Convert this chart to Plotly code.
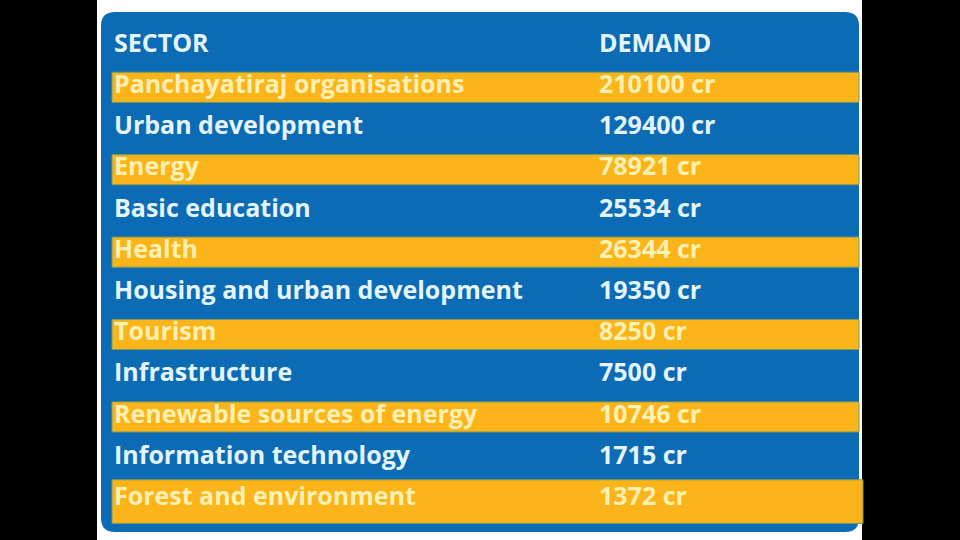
import plotly.graph_objects as go

# ---- data ----
headers = ["SECTOR", "DEMAND"]
sectors = [
    "Panchayatiraj organisations",
    "Urban development",
    "Energy",
    "Basic education",
    "Health",
    "Housing and urban development",
    "Tourism",
    "Infrastructure",
    "Renewable sources of energy",
    "Information technology",
    "Forest and environment",
]
demand_cr = [210100, 129400, 78921, 25534, 26344, 19350, 8250, 7500, 10746, 1715, 1372]
unit = "cr"

# ---- style ----
BLUE = "#0b6bb5"
ORANGE = "#fbb419"
TXT_BLUE = "#e4f5ff"
TXT_ORANGE = "#fff0b4"
FONT = "Open Sans"
FS = 25

n = len(sectors)
rows = list(range(1, n + 1))
demand_labels = [f"{v} {unit}" for v in demand_cr]
text_colors = [TXT_ORANGE if r % 2 == 1 else TXT_BLUE for r in rows]

ROW_PX = 41.2
TOP_PX = 45.5

def py(p):
    return (p - TOP_PX) / ROW_PX

shapes = [
    dict(type="rect", xref="x", yref="paper", x0=97, x1=862, y0=0, y1=1,
         fillcolor="white", line_width=0, layer="below"),
]

L, R = 101, 859
T, B = py(12), py(532)
rx = 14
ry = rx / ROW_PX
path = (f"M {L+rx},{T} L {R-rx},{T} Q {R},{T} {R},{T+ry} "
        f"L {R},{B-ry} Q {R},{B} {R-rx},{B} L {L+rx},{B} Q {L},{B} {L},{B-ry} "
        f"L {L},{T+ry} Q {L},{T} {L+rx},{T} Z")
shapes.append(dict(type="path", xref="x", yref="y", path=path,
                   fillcolor=BLUE, line_width=0, layer="below"))

for r in rows:
    if r % 2 == 1:
        if r == n:
            y0, y1, x1 = r - 0.46, r + 0.60, 863
        else:
            y0, y1, x1 = r - 0.35, r + 0.38, 859
        shapes.append(dict(type="rect", xref="x", yref="y", x0=112, x1=x1,
                           y0=y0, y1=y1, fillcolor=ORANGE,
                           line=dict(color="#7f9a5a", width=1), layer="below"))

fig = go.Figure()

fig.add_trace(go.Scatter(
    x=[114, 599], y=[0, 0], text=headers, mode="text",
    textposition="middle right",
    textfont=dict(family=FONT, size=FS, color=TXT_BLUE, weight="bold"),
    hoverinfo="skip", showlegend=False,
))
fig.add_trace(go.Scatter(
    x=[114] * n, y=rows, text=sectors, mode="text",
    textposition="middle right",
    textfont=dict(family=FONT, size=FS, color=text_colors, weight="bold"),
    hoverinfo="skip", showlegend=False,
))
fig.add_trace(go.Scatter(
    x=[599] * n, y=rows, text=demand_labels, mode="text",
    textposition="middle right",
    textfont=dict(family=FONT, size=FS, color=text_colors, weight="bold"),
    hoverinfo="skip", showlegend=False,
))

fig.update_layout(
    width=960, height=540,
    margin=dict(l=0, r=0, t=0, b=0),
    paper_bgcolor="black", plot_bgcolor="rgba(0,0,0,0)",
    shapes=shapes,
    xaxis=dict(range=[0, 960], visible=False, fixedrange=True),
    yaxis=dict(range=[py(540), py(0)], visible=False, fixedrange=True),
)

fig.write_html(
    "out.html",
    config={"displayModeBar": False},
    post_script="document.body.style.margin='0';document.body.style.overflow='hidden';document.body.style.background='black';",
)
